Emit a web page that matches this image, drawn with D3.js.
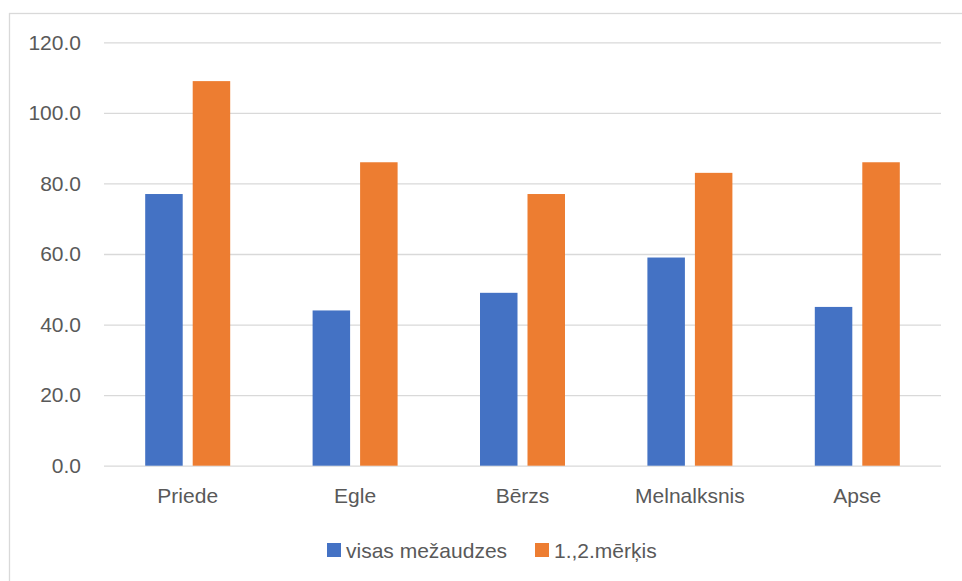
<!DOCTYPE html>
<html>
<head>
<meta charset="utf-8">
<script src="https://cdn.jsdelivr.net/npm/d3@7"></script>
<style>
  html, body { margin: 0; padding: 0; background: #fff; }
  svg { display: block; }
  text { font-family: "Liberation Sans", Arial, sans-serif; fill: #595959; }
</style>
</head>
<body>
<svg id="chart" width="962" height="581"></svg>
<script>
const categories = ["Priede", "Egle", "Bērzs", "Melnalksnis", "Apse"];
const seriesNames = ["visas mežaudzes", "1.,2.mērķis"];
const seriesColors = ["#4472C4", "#ED7D31"];
const visasMezaudzes = [77, 44, 49, 59, 45];
const merkis12 = [109, 86, 77, 83, 86];
const yTicks = [0, 20, 40, 60, 80, 100, 120];

const seriesValues = [visasMezaudzes, merkis12];

const svg = d3.select("#chart");

// chart area border (extends beyond the window on right/bottom)
svg.append("rect")
  .attr("x", 9.5).attr("y", 13.5)
  .attr("width", 1000).attr("height", 1000)
  .attr("fill", "none").attr("stroke", "#D9D9D9").attr("stroke-width", 1.3);

const plotLeft = 104, plotRight = 941, plotTop = 42.3, plotBottom = 465.7;

const y = d3.scaleLinear().domain([0, 120]).range([plotBottom, plotTop]);
const x = d3.scaleBand().domain(categories).range([plotLeft, plotRight]).padding(0);
const pairW = 85;
const off = (x.bandwidth() - pairW) / 2;
const xs = d3.scaleBand().domain(d3.range(seriesNames.length))
  .range([off, off + pairW]).paddingInner(0.2105).paddingOuter(0);

// gridlines
const yAxis = d3.axisLeft(y).tickValues(yTicks)
  .tickSize(-(plotRight - plotLeft)).tickPadding(23)
  .tickFormat(d3.format(".1f"));
const gy = svg.append("g").attr("transform", `translate(${plotLeft},0)`).call(yAxis);
gy.select(".domain").remove();
gy.selectAll(".tick line").attr("stroke", "#D9D9D9").attr("stroke-width", 1.3);
gy.selectAll(".tick text").attr("font-size", 21).attr("fill", "#595959")
  .style("font-family", '"Liberation Sans", Arial, sans-serif');

// bars
seriesValues.forEach((vals, si) => {
  svg.append("g").selectAll("rect")
    .data(vals)
    .join("rect")
    .attr("x", (d, i) => x(categories[i]) + xs(si))
    .attr("width", xs.bandwidth())
    .attr("y", d => y(d))
    .attr("height", d => y(0) - y(d))
    .attr("fill", seriesColors[si]);
});

// x axis labels
const xAxis = d3.axisBottom(x).tickSize(0).tickPadding(22);
const gx = svg.append("g").attr("transform", `translate(0,${plotBottom})`).call(xAxis);
gx.select(".domain").remove();
gx.selectAll(".tick text").attr("font-size", 21).attr("fill", "#595959")
  .style("font-family", '"Liberation Sans", Arial, sans-serif');

// legend
const legendItems = [
  { name: seriesNames[0], color: seriesColors[0], x: 327 },
  { name: seriesNames[1], color: seriesColors[1], x: 535 }
];
const lg = svg.append("g");
legendItems.forEach(it => {
  lg.append("rect").attr("x", it.x).attr("y", 543).attr("width", 14).attr("height", 14).attr("fill", it.color);
  lg.append("text").attr("x", it.x + 19).attr("y", 558).attr("font-size", 21).text(it.name);
});
</script>
</body>
</html>
